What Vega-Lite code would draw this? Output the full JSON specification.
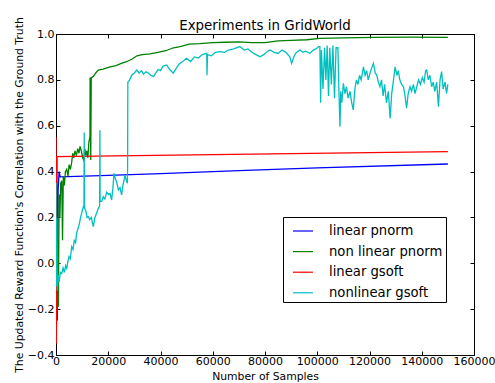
{
  "$schema": "https://vega.github.io/schema/vega-lite/v6.json",
  "width": 418,
  "height": 321,
  "autosize": {"type": "none"},
  "padding": {"left": 56, "top": 34, "right": 21, "bottom": 28},
  "background": "white",
  "title": {"text": "Experiments in GridWorld", "font": "DejaVu Sans", "fontSize": 13.4, "fontWeight": "normal", "color": "black", "offset": -16, "frame": "group"},
  "config": {
    "view": {"stroke": "black", "strokeWidth": 1},
    "axis": {"domainColor": "black", "tickColor": "black", "labelColor": "black", "titleColor": "black", "labelFont": "DejaVu Sans", "titleFont": "DejaVu Sans", "labelFontSize": 11, "titleFontSize": 10.8, "titleFontWeight": "normal", "grid": false, "tickSize": -4, "domainWidth": 1, "tickWidth": 1},
    "legend": {"orient": "none", "legendX": 227, "legendY": 183, "strokeColor": "black", "fillColor": "white", "padding": 3, "cornerRadius": 0, "symbolType": "stroke", "symbolSize": 400, "symbolStrokeWidth": 1.2, "labelFont": "DejaVu Sans", "labelFontSize": 13.2, "labelColor": "black", "labelOffset": 15, "rowPadding": 2.6, "symbolOffset": 6, "title": null}
  },
  "datasets": {
    "runs": [
      {"series": "linear pnorm", "x": 0, "y": -0.28},
      {"series": "linear pnorm", "x": 300, "y": 0.46},
      {"series": "linear pnorm", "x": 500, "y": -0.25},
      {"series": "linear pnorm", "x": 800, "y": 0.32},
      {"series": "linear pnorm", "x": 1200, "y": 0.40},
      {"series": "linear pnorm", "x": 1600, "y": 0.377},
      {"series": "linear pnorm", "x": 20000, "y": 0.383},
      {"series": "linear pnorm", "x": 40000, "y": 0.391},
      {"series": "linear pnorm", "x": 70000, "y": 0.404},
      {"series": "linear pnorm", "x": 100000, "y": 0.416},
      {"series": "linear pnorm", "x": 150000, "y": 0.433},

      {"series": "non linear pnorm", "x": 0, "y": -0.35},
      {"series": "non linear pnorm", "x": 300, "y": -0.2},
      {"series": "non linear pnorm", "x": 600, "y": 0.1},
      {"series": "non linear pnorm", "x": 900, "y": -0.19},
      {"series": "non linear pnorm", "x": 1200, "y": 0.3},
      {"series": "non linear pnorm", "x": 1500, "y": 0.2},
      {"series": "non linear pnorm", "x": 1800, "y": 0.35},
      {"series": "non linear pnorm", "x": 2200, "y": 0.36},
      {"series": "non linear pnorm", "x": 2500, "y": 0.1},
      {"series": "non linear pnorm", "x": 2800, "y": 0.38},
      {"series": "non linear pnorm", "x": 3200, "y": 0.34},
      {"series": "non linear pnorm", "x": 3600, "y": 0.4},
      {"series": "non linear pnorm", "x": 4100, "y": 0.41},
      {"series": "non linear pnorm", "x": 4600, "y": 0.38},
      {"series": "non linear pnorm", "x": 5000, "y": 0.43},
      {"series": "non linear pnorm", "x": 5500, "y": 0.41},
      {"series": "non linear pnorm", "x": 6000, "y": 0.44},
      {"series": "non linear pnorm", "x": 6400, "y": 0.48},
      {"series": "non linear pnorm", "x": 6800, "y": 0.46},
      {"series": "non linear pnorm", "x": 7300, "y": 0.49},
      {"series": "non linear pnorm", "x": 7800, "y": 0.47},
      {"series": "non linear pnorm", "x": 8300, "y": 0.5},
      {"series": "non linear pnorm", "x": 8800, "y": 0.48},
      {"series": "non linear pnorm", "x": 9200, "y": 0.51},
      {"series": "non linear pnorm", "x": 9700, "y": 0.49},
      {"series": "non linear pnorm", "x": 10200, "y": 0.46},
      {"series": "non linear pnorm", "x": 10600, "y": 0.45},
      {"series": "non linear pnorm", "x": 11000, "y": 0.5},
      {"series": "non linear pnorm", "x": 11400, "y": 0.47},
      {"series": "non linear pnorm", "x": 11800, "y": 0.49},
      {"series": "non linear pnorm", "x": 12200, "y": 0.46},
      {"series": "non linear pnorm", "x": 12600, "y": 0.53},
      {"series": "non linear pnorm", "x": 13000, "y": 0.55},
      {"series": "non linear pnorm", "x": 13050, "y": 0.81},
      {"series": "non linear pnorm", "x": 13300, "y": 0.45},
      {"series": "non linear pnorm", "x": 13500, "y": 0.81},
      {"series": "non linear pnorm", "x": 14300, "y": 0.815},
      {"series": "non linear pnorm", "x": 15200, "y": 0.83},
      {"series": "non linear pnorm", "x": 16200, "y": 0.843},
      {"series": "non linear pnorm", "x": 18000, "y": 0.847},
      {"series": "non linear pnorm", "x": 20700, "y": 0.857},
      {"series": "non linear pnorm", "x": 23000, "y": 0.862},
      {"series": "non linear pnorm", "x": 25000, "y": 0.872},
      {"series": "non linear pnorm", "x": 27000, "y": 0.879},
      {"series": "non linear pnorm", "x": 29000, "y": 0.89},
      {"series": "non linear pnorm", "x": 31000, "y": 0.905},
      {"series": "non linear pnorm", "x": 33000, "y": 0.91},
      {"series": "non linear pnorm", "x": 36000, "y": 0.913},
      {"series": "non linear pnorm", "x": 39000, "y": 0.92},
      {"series": "non linear pnorm", "x": 42000, "y": 0.927},
      {"series": "non linear pnorm", "x": 45000, "y": 0.94},
      {"series": "non linear pnorm", "x": 47500, "y": 0.945},
      {"series": "non linear pnorm", "x": 51000, "y": 0.956},
      {"series": "non linear pnorm", "x": 55000, "y": 0.958},
      {"series": "non linear pnorm", "x": 60000, "y": 0.962},
      {"series": "non linear pnorm", "x": 65000, "y": 0.964},
      {"series": "non linear pnorm", "x": 70000, "y": 0.966},
      {"series": "non linear pnorm", "x": 75000, "y": 0.962},
      {"series": "non linear pnorm", "x": 80000, "y": 0.962},
      {"series": "non linear pnorm", "x": 85000, "y": 0.97},
      {"series": "non linear pnorm", "x": 90000, "y": 0.972},
      {"series": "non linear pnorm", "x": 96000, "y": 0.975},
      {"series": "non linear pnorm", "x": 101000, "y": 0.981},
      {"series": "non linear pnorm", "x": 110000, "y": 0.983},
      {"series": "non linear pnorm", "x": 121500, "y": 0.985},
      {"series": "non linear pnorm", "x": 135000, "y": 0.986},
      {"series": "non linear pnorm", "x": 150000, "y": 0.985},

      {"series": "linear gsoft", "x": 0, "y": 0.55},
      {"series": "linear gsoft", "x": 150, "y": -0.35},
      {"series": "linear gsoft", "x": 300, "y": 0.465},
      {"series": "linear gsoft", "x": 150000, "y": 0.487},

      {"series": "nonlinear gsoft", "x": 0, "y": 0.35},
      {"series": "nonlinear gsoft", "x": 100, "y": -0.1},
      {"series": "nonlinear gsoft", "x": 300, "y": 0.2},
      {"series": "nonlinear gsoft", "x": 500, "y": -0.12},
      {"series": "nonlinear gsoft", "x": 800, "y": -0.05},
      {"series": "nonlinear gsoft", "x": 1200, "y": -0.08},
      {"series": "nonlinear gsoft", "x": 1700, "y": -0.04},
      {"series": "nonlinear gsoft", "x": 2200, "y": -0.044},
      {"series": "nonlinear gsoft", "x": 2700, "y": -0.02},
      {"series": "nonlinear gsoft", "x": 3200, "y": -0.04},
      {"series": "nonlinear gsoft", "x": 3700, "y": -0.01},
      {"series": "nonlinear gsoft", "x": 4100, "y": -0.022},
      {"series": "nonlinear gsoft", "x": 4600, "y": 0.01},
      {"series": "nonlinear gsoft", "x": 5000, "y": 0.03},
      {"series": "nonlinear gsoft", "x": 5500, "y": 0.02},
      {"series": "nonlinear gsoft", "x": 6000, "y": 0.072},
      {"series": "nonlinear gsoft", "x": 6500, "y": 0.06},
      {"series": "nonlinear gsoft", "x": 7000, "y": 0.1},
      {"series": "nonlinear gsoft", "x": 7500, "y": 0.09},
      {"series": "nonlinear gsoft", "x": 7900, "y": 0.131},
      {"series": "nonlinear gsoft", "x": 8400, "y": 0.15},
      {"series": "nonlinear gsoft", "x": 8900, "y": 0.17},
      {"series": "nonlinear gsoft", "x": 9400, "y": 0.2},
      {"series": "nonlinear gsoft", "x": 9800, "y": 0.218},
      {"series": "nonlinear gsoft", "x": 10300, "y": 0.24},
      {"series": "nonlinear gsoft", "x": 10700, "y": 0.254},
      {"series": "nonlinear gsoft", "x": 10800, "y": 0.57},
      {"series": "nonlinear gsoft", "x": 10900, "y": 0.24},
      {"series": "nonlinear gsoft", "x": 11400, "y": 0.23},
      {"series": "nonlinear gsoft", "x": 11900, "y": 0.2},
      {"series": "nonlinear gsoft", "x": 12400, "y": 0.203},
      {"series": "nonlinear gsoft", "x": 12900, "y": 0.19},
      {"series": "nonlinear gsoft", "x": 13500, "y": 0.2},
      {"series": "nonlinear gsoft", "x": 14300, "y": 0.16},
      {"series": "nonlinear gsoft", "x": 14900, "y": 0.2},
      {"series": "nonlinear gsoft", "x": 15600, "y": 0.22},
      {"series": "nonlinear gsoft", "x": 16200, "y": 0.24},
      {"series": "nonlinear gsoft", "x": 16700, "y": 0.25},
      {"series": "nonlinear gsoft", "x": 16800, "y": 0.58},
      {"series": "nonlinear gsoft", "x": 16900, "y": 0.27},
      {"series": "nonlinear gsoft", "x": 17500, "y": 0.27},
      {"series": "nonlinear gsoft", "x": 18100, "y": 0.29},
      {"series": "nonlinear gsoft", "x": 18700, "y": 0.28},
      {"series": "nonlinear gsoft", "x": 19400, "y": 0.31},
      {"series": "nonlinear gsoft", "x": 20100, "y": 0.3},
      {"series": "nonlinear gsoft", "x": 20700, "y": 0.305},
      {"series": "nonlinear gsoft", "x": 21300, "y": 0.276},
      {"series": "nonlinear gsoft", "x": 21800, "y": 0.33},
      {"series": "nonlinear gsoft", "x": 22200, "y": 0.392},
      {"series": "nonlinear gsoft", "x": 22700, "y": 0.37},
      {"series": "nonlinear gsoft", "x": 23300, "y": 0.35},
      {"series": "nonlinear gsoft", "x": 23900, "y": 0.32},
      {"series": "nonlinear gsoft", "x": 24500, "y": 0.33},
      {"series": "nonlinear gsoft", "x": 25100, "y": 0.298},
      {"series": "nonlinear gsoft", "x": 25600, "y": 0.34},
      {"series": "nonlinear gsoft", "x": 26000, "y": 0.36},
      {"series": "nonlinear gsoft", "x": 26400, "y": 0.385},
      {"series": "nonlinear gsoft", "x": 26900, "y": 0.36},
      {"series": "nonlinear gsoft", "x": 27300, "y": 0.349},
      {"series": "nonlinear gsoft", "x": 27400, "y": 0.4},
      {"series": "nonlinear gsoft", "x": 27500, "y": 0.79},
      {"series": "nonlinear gsoft", "x": 28200, "y": 0.8},
      {"series": "nonlinear gsoft", "x": 29000, "y": 0.82},
      {"series": "nonlinear gsoft", "x": 30000, "y": 0.83},
      {"series": "nonlinear gsoft", "x": 30900, "y": 0.843},
      {"series": "nonlinear gsoft", "x": 31800, "y": 0.83},
      {"series": "nonlinear gsoft", "x": 32700, "y": 0.84},
      {"series": "nonlinear gsoft", "x": 33500, "y": 0.825},
      {"series": "nonlinear gsoft", "x": 34400, "y": 0.835},
      {"series": "nonlinear gsoft", "x": 35300, "y": 0.83},
      {"series": "nonlinear gsoft", "x": 36200, "y": 0.82},
      {"series": "nonlinear gsoft", "x": 37300, "y": 0.814},
      {"series": "nonlinear gsoft", "x": 38200, "y": 0.83},
      {"series": "nonlinear gsoft", "x": 39100, "y": 0.845},
      {"series": "nonlinear gsoft", "x": 40000, "y": 0.84},
      {"series": "nonlinear gsoft", "x": 41000, "y": 0.86},
      {"series": "nonlinear gsoft", "x": 42400, "y": 0.865},
      {"series": "nonlinear gsoft", "x": 43500, "y": 0.845},
      {"series": "nonlinear gsoft", "x": 44900, "y": 0.829},
      {"series": "nonlinear gsoft", "x": 46000, "y": 0.85},
      {"series": "nonlinear gsoft", "x": 47200, "y": 0.87},
      {"series": "nonlinear gsoft", "x": 48500, "y": 0.88},
      {"series": "nonlinear gsoft", "x": 50000, "y": 0.894},
      {"series": "nonlinear gsoft", "x": 51500, "y": 0.88},
      {"series": "nonlinear gsoft", "x": 53000, "y": 0.9},
      {"series": "nonlinear gsoft", "x": 54500, "y": 0.895},
      {"series": "nonlinear gsoft", "x": 56000, "y": 0.91},
      {"series": "nonlinear gsoft", "x": 57700, "y": 0.916},
      {"series": "nonlinear gsoft", "x": 57800, "y": 0.82},
      {"series": "nonlinear gsoft", "x": 58000, "y": 0.91},
      {"series": "nonlinear gsoft", "x": 59500, "y": 0.905},
      {"series": "nonlinear gsoft", "x": 61000, "y": 0.92},
      {"series": "nonlinear gsoft", "x": 62800, "y": 0.923},
      {"series": "nonlinear gsoft", "x": 64500, "y": 0.92},
      {"series": "nonlinear gsoft", "x": 66000, "y": 0.93},
      {"series": "nonlinear gsoft", "x": 68000, "y": 0.935},
      {"series": "nonlinear gsoft", "x": 70400, "y": 0.945},
      {"series": "nonlinear gsoft", "x": 72000, "y": 0.93},
      {"series": "nonlinear gsoft", "x": 73500, "y": 0.935},
      {"series": "nonlinear gsoft", "x": 75000, "y": 0.92},
      {"series": "nonlinear gsoft", "x": 76500, "y": 0.91},
      {"series": "nonlinear gsoft", "x": 78100, "y": 0.901},
      {"series": "nonlinear gsoft", "x": 79500, "y": 0.91},
      {"series": "nonlinear gsoft", "x": 81000, "y": 0.925},
      {"series": "nonlinear gsoft", "x": 81900, "y": 0.93},
      {"series": "nonlinear gsoft", "x": 83500, "y": 0.92},
      {"series": "nonlinear gsoft", "x": 85000, "y": 0.915},
      {"series": "nonlinear gsoft", "x": 86500, "y": 0.93},
      {"series": "nonlinear gsoft", "x": 88000, "y": 0.92},
      {"series": "nonlinear gsoft", "x": 89500, "y": 0.9},
      {"series": "nonlinear gsoft", "x": 90200, "y": 0.872},
      {"series": "nonlinear gsoft", "x": 91000, "y": 0.9},
      {"series": "nonlinear gsoft", "x": 92000, "y": 0.92},
      {"series": "nonlinear gsoft", "x": 93400, "y": 0.93},
      {"series": "nonlinear gsoft", "x": 94500, "y": 0.92},
      {"series": "nonlinear gsoft", "x": 95500, "y": 0.925},
      {"series": "nonlinear gsoft", "x": 97200, "y": 0.916},
      {"series": "nonlinear gsoft", "x": 98500, "y": 0.93},
      {"series": "nonlinear gsoft", "x": 99500, "y": 0.935},
      {"series": "nonlinear gsoft", "x": 100500, "y": 0.945},
      {"series": "nonlinear gsoft", "x": 101000, "y": 0.945},
      {"series": "nonlinear gsoft", "x": 101300, "y": 0.70},
      {"series": "nonlinear gsoft", "x": 101600, "y": 0.93},
      {"series": "nonlinear gsoft", "x": 102200, "y": 0.76},
      {"series": "nonlinear gsoft", "x": 102800, "y": 0.94},
      {"series": "nonlinear gsoft", "x": 103300, "y": 0.80},
      {"series": "nonlinear gsoft", "x": 103800, "y": 0.95},
      {"series": "nonlinear gsoft", "x": 104300, "y": 0.73},
      {"series": "nonlinear gsoft", "x": 104800, "y": 0.94},
      {"series": "nonlinear gsoft", "x": 105400, "y": 0.78},
      {"series": "nonlinear gsoft", "x": 106000, "y": 0.95},
      {"series": "nonlinear gsoft", "x": 106600, "y": 0.72},
      {"series": "nonlinear gsoft", "x": 107200, "y": 0.94},
      {"series": "nonlinear gsoft", "x": 107900, "y": 0.94},
      {"series": "nonlinear gsoft", "x": 108300, "y": 0.75},
      {"series": "nonlinear gsoft", "x": 108700, "y": 0.596},
      {"series": "nonlinear gsoft", "x": 109000, "y": 0.75},
      {"series": "nonlinear gsoft", "x": 109400, "y": 0.7},
      {"series": "nonlinear gsoft", "x": 110000, "y": 0.785},
      {"series": "nonlinear gsoft", "x": 110600, "y": 0.74},
      {"series": "nonlinear gsoft", "x": 111200, "y": 0.77},
      {"series": "nonlinear gsoft", "x": 111800, "y": 0.72},
      {"series": "nonlinear gsoft", "x": 112500, "y": 0.75},
      {"series": "nonlinear gsoft", "x": 113200, "y": 0.7},
      {"series": "nonlinear gsoft", "x": 113800, "y": 0.669},
      {"series": "nonlinear gsoft", "x": 114400, "y": 0.76},
      {"series": "nonlinear gsoft", "x": 115000, "y": 0.8},
      {"series": "nonlinear gsoft", "x": 115600, "y": 0.78},
      {"series": "nonlinear gsoft", "x": 116200, "y": 0.82},
      {"series": "nonlinear gsoft", "x": 116800, "y": 0.8},
      {"series": "nonlinear gsoft", "x": 117700, "y": 0.857},
      {"series": "nonlinear gsoft", "x": 118300, "y": 0.82},
      {"series": "nonlinear gsoft", "x": 118900, "y": 0.84},
      {"series": "nonlinear gsoft", "x": 119500, "y": 0.8},
      {"series": "nonlinear gsoft", "x": 120200, "y": 0.83},
      {"series": "nonlinear gsoft", "x": 120800, "y": 0.85},
      {"series": "nonlinear gsoft", "x": 121500, "y": 0.872},
      {"series": "nonlinear gsoft", "x": 122200, "y": 0.83},
      {"series": "nonlinear gsoft", "x": 122800, "y": 0.82},
      {"series": "nonlinear gsoft", "x": 123400, "y": 0.79},
      {"series": "nonlinear gsoft", "x": 124000, "y": 0.77},
      {"series": "nonlinear gsoft", "x": 124600, "y": 0.8},
      {"series": "nonlinear gsoft", "x": 125200, "y": 0.73},
      {"series": "nonlinear gsoft", "x": 125800, "y": 0.78},
      {"series": "nonlinear gsoft", "x": 126500, "y": 0.7},
      {"series": "nonlinear gsoft", "x": 127200, "y": 0.75},
      {"series": "nonlinear gsoft", "x": 127900, "y": 0.632},
      {"series": "nonlinear gsoft", "x": 128500, "y": 0.74},
      {"series": "nonlinear gsoft", "x": 129200, "y": 0.8},
      {"series": "nonlinear gsoft", "x": 129800, "y": 0.857},
      {"series": "nonlinear gsoft", "x": 130500, "y": 0.82},
      {"series": "nonlinear gsoft", "x": 131000, "y": 0.84},
      {"series": "nonlinear gsoft", "x": 131600, "y": 0.8},
      {"series": "nonlinear gsoft", "x": 132300, "y": 0.78},
      {"series": "nonlinear gsoft", "x": 133000, "y": 0.77},
      {"series": "nonlinear gsoft", "x": 133600, "y": 0.73},
      {"series": "nonlinear gsoft", "x": 134200, "y": 0.676},
      {"series": "nonlinear gsoft", "x": 134800, "y": 0.74},
      {"series": "nonlinear gsoft", "x": 135500, "y": 0.77},
      {"series": "nonlinear gsoft", "x": 136100, "y": 0.75},
      {"series": "nonlinear gsoft", "x": 136800, "y": 0.78},
      {"series": "nonlinear gsoft", "x": 137400, "y": 0.74},
      {"series": "nonlinear gsoft", "x": 138100, "y": 0.77},
      {"series": "nonlinear gsoft", "x": 138800, "y": 0.8},
      {"series": "nonlinear gsoft", "x": 139500, "y": 0.78},
      {"series": "nonlinear gsoft", "x": 140200, "y": 0.81},
      {"series": "nonlinear gsoft", "x": 140900, "y": 0.79},
      {"series": "nonlinear gsoft", "x": 141500, "y": 0.84},
      {"series": "nonlinear gsoft", "x": 141900, "y": 0.843},
      {"series": "nonlinear gsoft", "x": 142500, "y": 0.8},
      {"series": "nonlinear gsoft", "x": 143100, "y": 0.82},
      {"series": "nonlinear gsoft", "x": 143800, "y": 0.77},
      {"series": "nonlinear gsoft", "x": 144400, "y": 0.79},
      {"series": "nonlinear gsoft", "x": 145000, "y": 0.75},
      {"series": "nonlinear gsoft", "x": 145700, "y": 0.79},
      {"series": "nonlinear gsoft", "x": 146400, "y": 0.683},
      {"series": "nonlinear gsoft", "x": 147000, "y": 0.8},
      {"series": "nonlinear gsoft", "x": 147600, "y": 0.836},
      {"series": "nonlinear gsoft", "x": 148200, "y": 0.76},
      {"series": "nonlinear gsoft", "x": 148900, "y": 0.79},
      {"series": "nonlinear gsoft", "x": 149500, "y": 0.741},
      {"series": "nonlinear gsoft", "x": 150000, "y": 0.78}
    ]
  },
  "data": {"name": "runs"},
  "resolve": {"axis": {"x": "independent", "y": "independent"}},
  "layer": [
    {
      "mark": {"type": "line", "strokeWidth": 1.3, "clip": true},
      "encoding": {
        "x": {"field": "x", "type": "quantitative", "scale": {"domain": [0, 160000], "nice": false, "zero": false},
              "axis": {"orient": "bottom", "title": "Number of Samples", "values": [0, 20000, 40000, 60000, 80000, 100000, 120000, 140000, 160000], "format": "d", "labelPadding": 4, "titlePadding": 4, "labelFlush": false}},
        "y": {"field": "y", "type": "quantitative", "scale": {"domain": [-0.4, 1.0], "nice": false, "zero": false},
              "axis": {"orient": "left", "title": "The Updated Reward Function's Correlation with the Ground Truth", "values": [-0.4, -0.2, 0.0, 0.2, 0.4, 0.6, 0.8, 1.0], "format": ".1f", "labelPadding": 6, "titlePadding": 3, "labelFlush": false}},
        "color": {"field": "series", "type": "nominal",
                  "scale": {"domain": ["linear pnorm", "non linear pnorm", "linear gsoft", "nonlinear gsoft"], "range": ["#0000ff", "#008000", "#ff0000", "#00bfbf"]},
                  "legend": {"title": null}},
        "order": {"field": "x", "type": "quantitative"}
      }
    },
    {
      "mark": {"type": "point", "opacity": 0},
      "encoding": {
        "x": {"field": "x", "type": "quantitative", "axis": {"orient": "top", "title": null, "labels": false, "values": [0, 20000, 40000, 60000, 80000, 100000, 120000, 140000, 160000]}},
        "y": {"field": "y", "type": "quantitative", "axis": {"orient": "right", "title": null, "labels": false, "values": [-0.4, -0.2, 0.0, 0.2, 0.4, 0.6, 0.8, 1.0]}}
      }
    }
  ]
}
